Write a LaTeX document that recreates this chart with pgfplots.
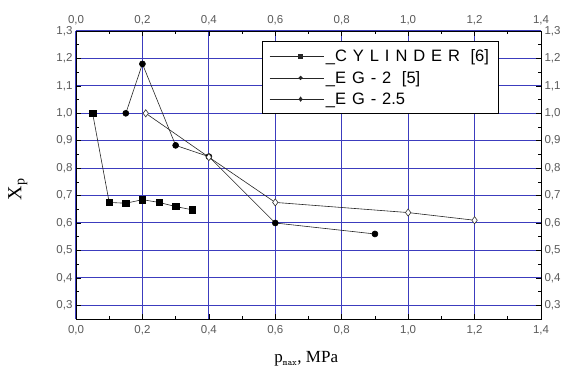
\documentclass[border=0pt]{standalone}
\usepackage{pgfplots}
\pgfplotsset{compat=1.18}
\usetikzlibrary{calc}
\usepackage{fontspec}
\setmainfont{Liberation Serif}
\setsansfont{Liberation Sans}
\definecolor{gridblue}{RGB}{60,60,190}
\definecolor{ticklab}{RGB}{90,90,90}
\pgfplotsset{
  common/.style={
  scale only axis, width=465pt, height=288pt,
  at={(0,0)}, anchor=south west,
  xmin=0, xmax=1.4, ymin=0.25, ymax=1.3,
  xtick={0,0.2,...,1.4}, ytick={0.3,0.4,...,1.3},
  minor xtick={0.1,0.3,...,1.3}, minor ytick={0.25,0.35,...,1.25},
  tick pos=both,
  /pgf/number format/.cd, use comma, fixed, fixed zerofill, precision=1, assume math mode=true,
  /pgfplots/.cd,
  ticklabel style={font=\sffamily\fontsize{11.5}{13}\selectfont, text=ticklab},
  major tick length=5pt, minor tick length=3pt,
  tick style={black, line width=0.6pt},
  axis line style={black, line width=0.8pt},
  }
}
\newcommand{\ls}{\hspace{0.36em}}
\begin{document}
\begin{tikzpicture}
\begin{axis}[common, name=main,
  xticklabel style={yshift=-3pt},
  xmajorgrids, ymajorgrids,
  major grid style={gridblue, line width=1pt},
  xlabel={p\textsubscript{\ttfamily\fontsize{9}{9}\selectfont max}, MPa},
  ylabel={X\textsubscript{p}},
  xlabel style={font=\rmfamily\fontsize{17}{19}\selectfont, at={(axis description cs:0.495,0)}, anchor=base, yshift=-44pt},
  ylabel style={font=\rmfamily\fontsize{20}{22}\selectfont, at={(axis description cs:-0.125,0.45)}, anchor=center},
  legend style={at={(axis cs:0.56,1.262)}, anchor=north west, draw=black, line width=0.6pt, fill=white,
     font=\sffamily\fontsize{16.5}{19}\selectfont, row sep=4pt, inner xsep=7pt, inner ysep=6pt, cells={anchor=west}},
  legend image code/.code={\path (0pt,0pt) -- (54pt,0pt);\draw[#1, mark options={scale=0.6}, mark repeat=2, mark phase=2] plot coordinates {(10pt,0pt) (31pt,0pt) (52pt,0pt)};},
  every axis plot/.append style={line width=0.6pt},
]
\addplot[black!85, mark=square*, mark size=3.2pt, mark options={solid, black}] coordinates {
(0.05,1.0) (0.1,0.675) (0.15,0.672) (0.2,0.685) (0.25,0.675) (0.3,0.66) (0.35,0.648)};
\addlegendentry{\_C\ls Y\ls L\ls I\ls N\ls D\ls E\ls R\ls\ [6]}
\addplot[black!85, mark=*, mark size=3pt, mark options={black}] coordinates {
(0.15,1.0) (0.2,1.18) (0.3,0.883) (0.4,0.842) (0.6,0.6) (0.9,0.56)};
\addlegendentry{\_E\ls G\ls -\ls 2\ls\ [5]}
\addplot[black!85, mark=diamond*, mark size=3.6pt, mark options={fill=white, draw=black!80}] coordinates {
(0.21,1.0) (0.4,0.84) (0.6,0.675) (1.0,0.638) (1.2,0.61)};
\addlegendentry{\_E\ls G\ls -\ls 2.5}
\end{axis}
\begin{axis}[common, xticklabel pos=upper, yticklabel pos=right, xticklabel style={yshift=2pt}]
\end{axis}
\pgfresetboundingbox
\useasboundingbox ($(main.south west)+(-76pt,-52pt)$) rectangle ($(main.north east)+(24pt,31pt)$);
\end{tikzpicture}
\end{document}
